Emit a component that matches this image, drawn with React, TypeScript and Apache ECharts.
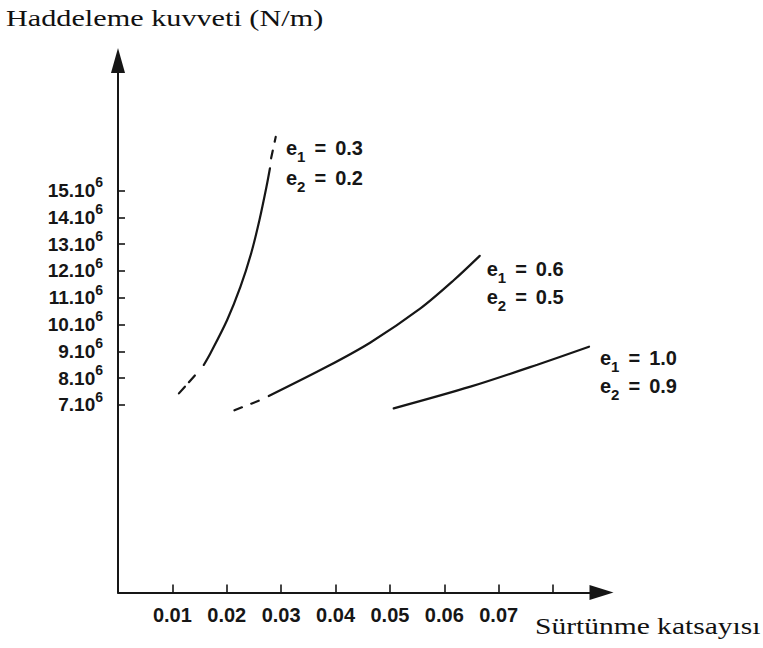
import React, { useEffect, useRef } from 'react';
import * as echarts from 'echarts';

// Axis ticks / labels
const xTickValues = [0.01, 0.02, 0.03, 0.04, 0.05, 0.06, 0.07, 0.08];
const xLabelValues = [0.01, 0.02, 0.03, 0.04, 0.05, 0.06, 0.07];
const yTickValues = [7, 8, 9, 10, 11, 12, 13, 14, 15];

// Curve e1 = 0.3, e2 = 0.2 (force in units of 10^6 N/m)
const curve1DashLow = [[0.0112, 7.43], [0.0148, 8.25]];
const curve1Solid = [
  [0.01577, 8.49], [0.0170, 8.93], [0.02007, 10.17], [0.02252, 11.41],
  [0.02449, 12.66], [0.02601, 13.9], [0.0273, 15.14], [0.02794, 15.83],
];
const curve1DashTop = [[0.02815, 16.2], [0.0290, 17.0]];

// Curve e1 = 0.6, e2 = 0.5
const curve2DashLow = [[0.02142, 6.8], [0.02619, 7.18]];
const curve2Solid = [
  [0.02772, 7.33], [0.03846, 8.43], [0.04642, 9.33], [0.05561, 10.6],
  [0.06173, 11.65], [0.06651, 12.56],
];

// Curve e1 = 1.0, e2 = 0.9
const curve3Solid = [
  [0.0507, 6.87], [0.0648, 7.68], [0.0771, 8.5], [0.0866, 9.17],
];

// Annotation texts
const annE1 = ['0.3', '0.6', '1.0'];
const annE2 = ['0.2', '0.5', '0.9'];

const yTitle = 'Haddeleme kuvveti (N/m)';
const xTitle = 'Sürtünme katsayısı';

const INK = '#161616';
const SANS = '"Liberation Sans", Arial, sans-serif';
const SERIF = '"Liberation Serif", "Times New Roman", serif';

function lineSeries(data: number[][], dash?: number[]) {
  return {
    type: 'line',
    data,
    symbol: 'none',
    smooth: dash ? false : 0.3,
    silent: true,
    lineStyle: { color: INK, width: 2.2, type: dash ?? 'solid', cap: 'round' },
  };
}

function annText(x: number, y: number, idx: number, val: string) {
  const base = { fontSize: 20, fontFamily: SANS, fontWeight: 'bold', fill: INK, lineHeight: 32 };
  return {
    type: 'text',
    x,
    y,
    style: {
      text: `{e|e}{s|${idx}}{q|=}{t|${val}}`,
      verticalAlign: 'middle',
      align: 'left',
      fill: INK,
      rich: {
        e: base,
        s: { fontSize: 15, fontFamily: SANS, fontWeight: 'bold', fill: INK, lineHeight: 15, verticalAlign: 'bottom' },
        q: { ...base, padding: [0, 9, 0, 9] },
        t: base,
      },
    },
  };
}

const annPos = [
  [286, 148, 177.5],
  [486.7, 269, 296.8],
  [600, 358.4, 385.8],
];

const App = () => {
  const ref = useRef<HTMLDivElement>(null);
  useEffect(() => {
    const chart = echarts.init(ref.current!, null, { renderer: 'svg' });
    const graphics: any[] = [];
    annPos.forEach((p, i) => {
      graphics.push(annText(p[0], p[1], 1, annE1[i]));
      graphics.push(annText(p[0], p[2], 2, annE2[i]));
    });
    graphics.push({
      type: 'text',
      x: 6,
      y: 18,
      scaleX: 1.26,
      style: { text: yTitle, fontSize: 24, fontFamily: SERIF, fill: '#111', verticalAlign: 'middle' },
    });
    graphics.push({
      type: 'text',
      x: 535,
      y: 626,
      scaleX: 1.23,
      style: { text: xTitle, fontSize: 24, fontFamily: SERIF, fill: '#111', verticalAlign: 'middle' },
    });

    chart.setOption({
      animation: false,
      backgroundColor: '#ffffff',
      grid: { left: 118, right: 161.5, top: 60.5, bottom: 55.5, containLabel: false },
      xAxis: {
        type: 'value',
        min: 0,
        max: 0.0889,
        splitLine: { show: false },
        axisLine: {
          show: true,
          onZero: false,
          symbol: ['none', 'triangle'],
          symbolSize: [15, 24],
          lineStyle: { color: INK, width: 2 },
        },
        axisTick: {
          show: true,
          inside: true,
          length: 8,
          customValues: xTickValues,
          lineStyle: { color: INK, width: 1.6 },
        },
        axisLabel: {
          customValues: xLabelValues,
          formatter: (v: number) => v.toFixed(2),
          margin: 12,
          fontSize: 20,
          fontWeight: 'bold',
          fontFamily: SANS,
          color: INK,
        },
      },
      yAxis: {
        type: 'value',
        min: 0,
        max: 19.85,
        splitLine: { show: false },
        axisLine: {
          show: true,
          onZero: false,
          symbol: ['none', 'triangle'],
          symbolSize: [14, 25],
          lineStyle: { color: INK, width: 2 },
        },
        axisTick: {
          show: true,
          inside: true,
          length: 7,
          customValues: yTickValues,
          lineStyle: { color: INK, width: 1.6 },
        },
        axisLabel: {
          customValues: yTickValues,
          margin: 15,
          formatter: (v: number) => `{a|${v}.10}{b|6}`,
          rich: {
            a: { fontSize: 19, fontWeight: 'bold', fontFamily: SANS, color: INK, lineHeight: 30 },
            b: { fontSize: 14, fontWeight: 'bold', fontFamily: SANS, color: INK, lineHeight: 14, verticalAlign: 'top' },
          },
        },
      },
      series: [
        lineSeries(curve1DashLow, [9, 6]),
        lineSeries(curve1Solid),
        lineSeries(curve1DashTop, [8, 9]),
        lineSeries(curve2DashLow, [8, 10]),
        lineSeries(curve2Solid),
        lineSeries(curve3Solid),
      ],
      graphic: graphics,
    });
    return () => chart.dispose();
  }, []);
  return (
    <div
      ref={ref}
      style={{ position: 'absolute', left: 0, top: 0, width: 763, height: 648 }}
    />
  );
};

export default App;
